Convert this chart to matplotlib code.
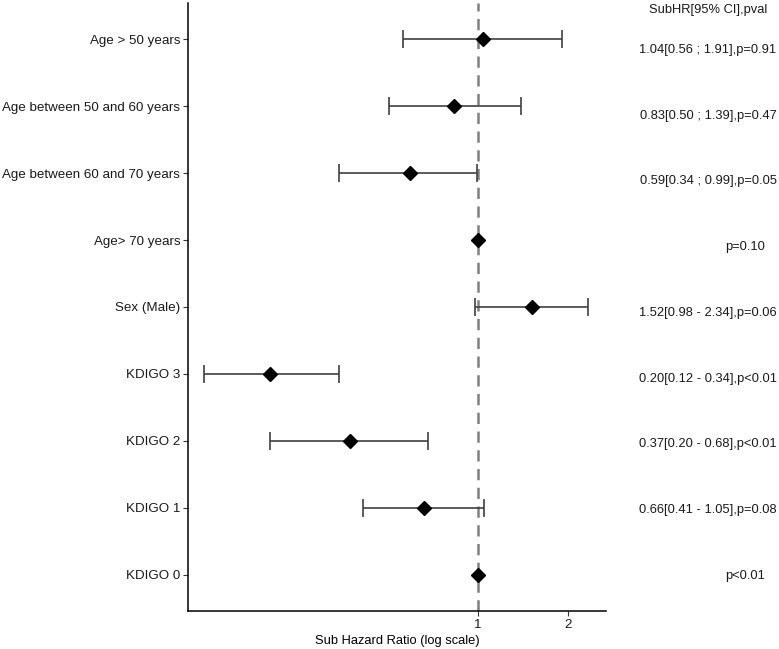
import numpy as np
import matplotlib
matplotlib.use("Agg")
import matplotlib.pyplot as plt

labels = ["Age > 50 years", "Age between 50 and 60 years", "Age between 60 and 70 years",
          "Age> 70 years", "Sex (Male)", "KDIGO 3", "KDIGO 2", "KDIGO 1", "KDIGO 0"]
hr = [1.04, 0.83, 0.59, 1.00, 1.52, 0.20, 0.37, 0.66, 1.00]
ci_low = [0.56, 0.50, 0.34, np.nan, 0.98, 0.12, 0.20, 0.41, np.nan]
ci_high = [1.91, 1.39, 0.99, np.nan, 2.34, 0.34, 0.68, 1.05, np.nan]
annot = ["1.04[0.56 ; 1.91],p=0.91", "0.83[0.50 ; 1.39],p=0.47", "0.59[0.34 ; 0.99],p=0.05",
         "p=0.10", "1.52[0.98 - 2.34],p=0.06", "0.20[0.12 - 0.34],p<0.01",
         "0.37[0.20 - 0.68],p<0.01", "0.66[0.41 - 1.05],p=0.08", "p<0.01"]
header = "SubHR[95% CI],pval"
xlabel = "Sub Hazard Ratio (log scale)"
xticks = [1, 2]

plt.rcParams['font.family'] = ['Liberation Sans', 'DejaVu Sans']
FS = 9.6
FS_T = 9.3
W, H = 779, 649
fig = plt.figure(figsize=(W / 100, H / 100), dpi=100)
ax = fig.add_axes([188 / W, (H - 611) / H, (606 - 188) / W, (611 - 3) / H])

n = len(labels)
ypos = np.arange(n, 0, -1)
hr_a = np.array(hr)
lo_a = np.array(ci_low)
hi_a = np.array(ci_high)
has = ~np.isnan(lo_a)

ax.axvline(1, color='#808080', lw=1.8, ls=(0, (4.5, 3)), zorder=1)
ax.errorbar(hr_a[has], ypos[has], xerr=[hr_a[has] - lo_a[has], hi_a[has] - hr_a[has]],
            fmt='none', ecolor='#404040', elinewidth=1.2, capsize=6.2, capthick=1.2, zorder=2)
ax.plot(hr_a, ypos, ls='none', marker='D', ms=6.8, color='black', zorder=3)

ax.set_xscale('log')
ax.set_xlim(0.106, 2.69)
ax.set_ylim(0.46, n + 0.54)
ax.set_xticks(xticks)
ax.set_xticklabels([str(t) for t in xticks])
ax.xaxis.set_minor_locator(matplotlib.ticker.NullLocator())
ax.set_yticks(ypos)
ax.set_yticklabels(labels)
ax.tick_params(axis='both', labelsize=FS, colors='#333333', labelcolor='#1a1a1a',
               length=3.5, width=0.8, pad=2)
ax.set_xlabel(xlabel, fontsize=FS_T, color='black', labelpad=3)
for s in ['top', 'right']:
    ax.spines[s].set_visible(False)
for s in ['left', 'bottom']:
    ax.spines[s].set_linewidth(1.1)
    ax.spines[s].set_color('black')

# annotation panel
ax2 = fig.add_axes([610 / W, (H - 611) / H, (W - 610) / W, (611 - 3) / H])
ax2.set_xlim(0, 1)
ax2.set_ylim(0.437, 9.684)
ax2.axis('off')
for y, t in zip(ypos, annot):
    xc = 0.80 if t.startswith('p') else 0.58
    ax2.text(xc, y - 0.03, t, ha='center', va='center', fontsize=FS_T, color='#1a1a1a')
ax2.text(0.58, 9.578, header, ha='center', va='center', fontsize=FS_T, color='#1a1a1a', clip_on=False)

fig.savefig("out.png", dpi=100)
